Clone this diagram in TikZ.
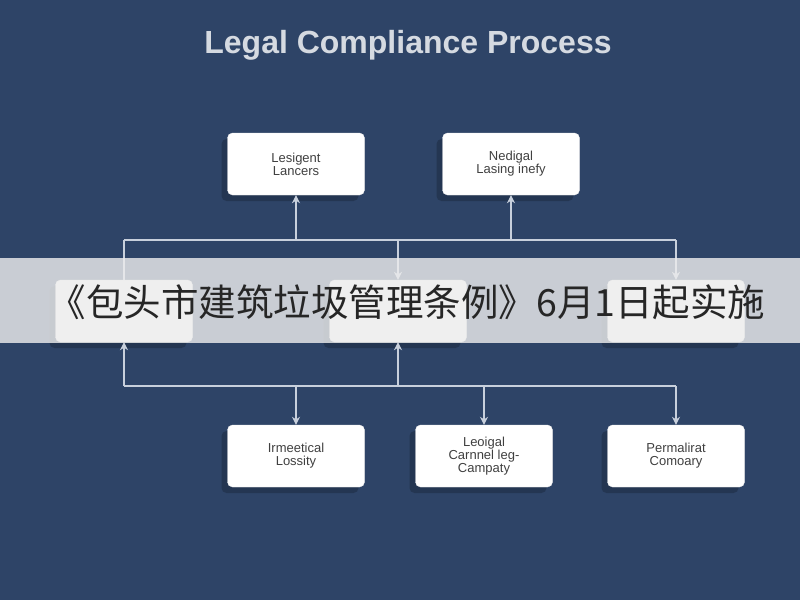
\documentclass[tikz,border=0pt]{standalone}
\usepackage{fontspec}
\setmainfont{Liberation Sans}
\newfontfamily\cjk{Noto Sans CJK SC}
\usetikzlibrary{arrows.meta,shadows}
\definecolor{bg}{HTML}{2E4467}
\definecolor{ln}{HTML}{C8D0DC}
\begin{document}
\begin{tikzpicture}[x=1pt,y=-1pt,
  box/.style={draw=white!85!gray,fill=white,rounded corners=5pt,minimum width=137pt,minimum height=62pt,align=center,font=\fontsize{13}{13}\selectfont,text=black!75,
    drop shadow={shadow xshift=-6pt,shadow yshift=-6pt,fill=black,opacity=0.2}},
  con/.style={draw=ln,line width=1.1pt},
  arr/.style={con,-{Stealth[length=8pt,width=8pt]}}]
\fill[bg] (0,0) rectangle (800,600);
\useasboundingbox (0,0) rectangle (800,600);
\node[font=\bfseries\fontsize{32}{32}\selectfont,text=white!80!bg] (title) at (408,45) {Legal Compliance Process};
\node[box] (t1) at (296,164) {Lesigent\\Lancers};
\node[box] (t2) at (511,164) {Nedigal\\Lasing inefy};
\node[box] (m1) at (124,311) {};
\node[box] (m2) at (398,311) {};
\node[box] (m3) at (676,311) {};
\node[box] (b1) at (296,456) {Irmeetical\\Lossity};
\node[box] (b2) at (484,456) {Leoigal\\Carnnel leg-\\Campaty};
\node[box] (b3) at (676,456) {Permalirat\\Comoary};
\coordinate (h1) at (124,240); \coordinate (h2) at (676,240);
\coordinate (g1) at (124,386); \coordinate (g2) at (676,386);
\draw[con] (h1) -- (h2);
\draw[con] (h1) -- (m1.north);
\draw[arr] (t1.south |- h1) -- (t1.south);
\draw[arr] (t2.south |- h1) -- (t2.south);
\draw[arr] (m2.north |- h1) -- (m2.north);
\draw[arr] (h2) -- (m3.north);
\draw[con] (g1) -- (g2);
\draw[arr] (g1) -- (m1.south);
\draw[arr] (m2.south |- g1) -- (m2.south);
\draw[arr] (b1.north |- g1) -- (b1.north);
\draw[arr] (b2.north |- g1) -- (b2.north);
\draw[arr] (g2) -- (b3.north);
\fill[white!85!gray,opacity=0.82] (0,258) rectangle (800,343);
\node[font=\cjk\fontsize{37.5}{37.5}\selectfont,text=black!85] (band) at (407,302) {《包头市建筑垃圾管理条例》6月1日起实施};
\end{tikzpicture}
\end{document}
